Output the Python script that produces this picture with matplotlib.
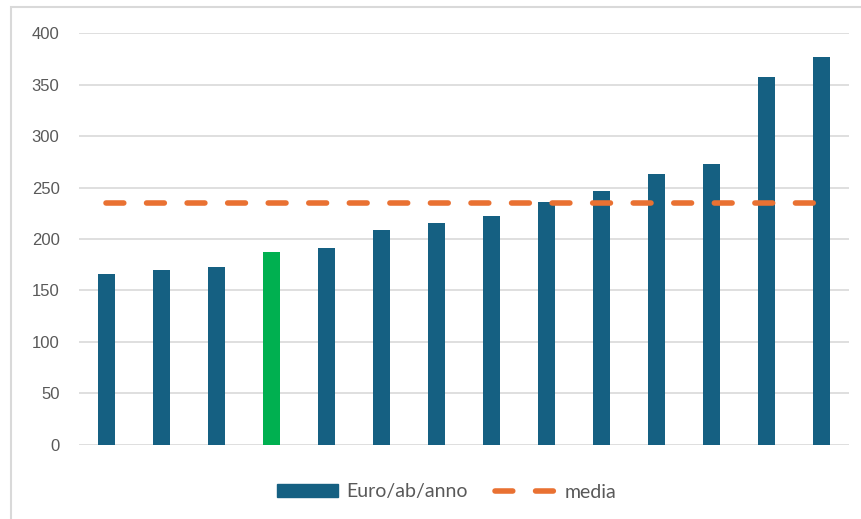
# Euro/ab/anno bar chart with average line

import matplotlib.pyplot as plt
from matplotlib.patches import Rectangle

# Data (sorted ascending, no category labels shown)
valori = [166, 170, 173, 187, 191, 209, 216, 222, 236, 247, 263, 273, 357, 377]
media = [235] * len(valori)
evidenziato = 3  # index of the green bar
y_ticks = [0, 50, 100, 150, 200, 250, 300, 350, 400]

blu = '#156082'
verde = '#00B050'
arancio = '#E97132'
grigio_testo = '#595959'
grigio_griglia = '#D9D9D9'

fig = plt.figure(figsize=(8.62, 5.19), dpi=100)
ax = fig.add_axes([0.0916, 0.1426, 0.8934, 0.7938])

x = list(range(len(valori)))
colori = [verde if i == evidenziato else blu for i in x]

ax.bar(x, valori, width=0.31, color=colori, zorder=3)

ax.plot(x, media, color=arancio, linewidth=4, linestyle=(0, (3.2, 4.1)),
        dash_capstyle='round', zorder=4)

ax.set_xlim(-0.5, len(valori) - 0.5)
ax.set_ylim(0, 400)
ax.set_yticks(y_ticks)
ax.set_xticks([])
ax.yaxis.grid(True, color=grigio_griglia, linewidth=1.2, zorder=0)
ax.set_axisbelow(True)
for s in ax.spines.values():
    s.set_visible(False)
ax.tick_params(axis='y', length=0, pad=14, labelsize=12, labelcolor=grigio_testo)
for lab in ax.get_yticklabels():
    lab.set_fontfamily('Liberation Sans')

# legend (blue patch for bars, dashed orange for average)
h_bar = Rectangle((0, 0), 1, 1, color=blu)
h_line = ax.get_lines()[0]
leg = fig.legend([h_bar, h_line], ['Euro/ab/anno', 'media'], loc='center',
                 bbox_to_anchor=(0.518, 1 - 492 / 519), ncol=2, frameon=False,
                 handlelength=3.15, handleheight=0.67, handletextpad=0.42,
                 columnspacing=1.4, prop={'family': 'Lato', 'size': 14})
for t in leg.get_texts():
    t.set_color(grigio_testo)

# chart outer border
fig.patches.append(Rectangle((11 / 862, -0.1), 1.2, 1.1 - 7 / 519,
                             transform=fig.transFigure, fill=False,
                             edgecolor=grigio_griglia, linewidth=1.5))

fig.savefig('out.png', dpi=100)
